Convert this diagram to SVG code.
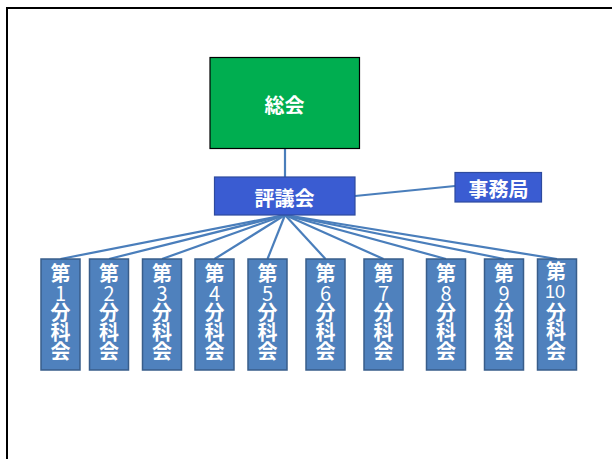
<svg xmlns="http://www.w3.org/2000/svg" width="612" height="459" viewBox="0 0 612 459">
  <style>
    .lbl { font-family: "Noto Sans CJK JP", "Liberation Sans", sans-serif; font-weight: bold; fill: #ffffff; text-anchor: middle; dominant-baseline: central; font-size: 20px; }
    .vert { font-family: "Noto Sans CJK JP", sans-serif; font-weight: bold; fill: #ffffff; font-size: 20px; writing-mode: vertical-rl; text-orientation: upright; letter-spacing: -0.5px; text-anchor: start; }
    .dig { font-weight: normal; }
    .dig10 { font-family: "Liberation Sans", sans-serif; font-weight: normal; fill: #ffffff; font-size: 18px; text-anchor: middle; dominant-baseline: central; }
    .conn { stroke: #4A7EBB; stroke-width: 2.2; fill: none; }
    .bluebox { fill: #3A5CD2; stroke: #2E4A9E; stroke-width: 1.2; }
    .subbox { fill: #4F81BD; stroke: #385D8A; stroke-width: 1.5; }
  </style>
  <rect x="0" y="0" width="612" height="459" fill="#ffffff"/>
  <rect x="7" y="8" width="700" height="520" fill="none" stroke="#000000" stroke-width="2"/>

  <g id="connectors">
    <line class="conn" x1="285" y1="149" x2="285" y2="177"/>
    <line class="conn" x1="355" y1="196" x2="455" y2="186"/>
    <line class="conn" x1="285" y1="215" x2="60.5" y2="259"/>
    <line class="conn" x1="285" y1="215" x2="109" y2="259"/>
    <line class="conn" x1="285" y1="215" x2="162" y2="259"/>
    <line class="conn" x1="285" y1="215" x2="214.5" y2="259"/>
    <line class="conn" x1="285" y1="215" x2="267.5" y2="259"/>
    <line class="conn" x1="285" y1="215" x2="325.5" y2="259"/>
    <line class="conn" x1="285" y1="215" x2="383.5" y2="259"/>
    <line class="conn" x1="285" y1="215" x2="446" y2="259"/>
    <line class="conn" x1="285" y1="215" x2="504" y2="259"/>
    <line class="conn" x1="285" y1="215" x2="557" y2="259"/>
  </g>

  <g id="soukai">
    <rect x="210" y="57.5" width="149.5" height="91" fill="#00AE50" stroke="#000000" stroke-width="1.2"/>
    <text class="lbl" x="284.5" y="104">総会</text>
  </g>

  <g id="hyogikai">
    <rect class="bluebox" x="214.5" y="177" width="140.5" height="38"/>
    <text class="lbl" x="284.5" y="197">評議会</text>
  </g>

  <g id="jimukyoku">
    <rect class="bluebox" x="455" y="172.5" width="86.5" height="29.5"/>
    <text class="lbl" x="498.5" y="188.5">事務局</text>
  </g>

  <g id="bunkakai1">
    <rect class="subbox" x="41" y="259" width="39" height="111"/>
    <text class="vert" x="60.5" y="263.5">第<tspan class="dig">1</tspan>分科会</text>
  </g>
  <g id="bunkakai2">
    <rect class="subbox" x="89.5" y="259" width="39" height="111"/>
    <text class="vert" x="109" y="263.5">第<tspan class="dig">2</tspan>分科会</text>
  </g>
  <g id="bunkakai3">
    <rect class="subbox" x="142.5" y="259" width="39" height="111"/>
    <text class="vert" x="162" y="263.5">第<tspan class="dig">3</tspan>分科会</text>
  </g>
  <g id="bunkakai4">
    <rect class="subbox" x="195" y="259" width="39" height="111"/>
    <text class="vert" x="214.5" y="263.5">第<tspan class="dig">4</tspan>分科会</text>
  </g>
  <g id="bunkakai5">
    <rect class="subbox" x="248" y="259" width="39" height="111"/>
    <text class="vert" x="267.5" y="263.5">第<tspan class="dig">5</tspan>分科会</text>
  </g>
  <g id="bunkakai6">
    <rect class="subbox" x="306" y="259" width="39" height="111"/>
    <text class="vert" x="325.5" y="263.5">第<tspan class="dig">6</tspan>分科会</text>
  </g>
  <g id="bunkakai7">
    <rect class="subbox" x="364" y="259" width="39" height="111"/>
    <text class="vert" x="383.5" y="263.5">第<tspan class="dig">7</tspan>分科会</text>
  </g>
  <g id="bunkakai8">
    <rect class="subbox" x="426.5" y="259" width="39" height="111"/>
    <text class="vert" x="446" y="263.5">第<tspan class="dig">8</tspan>分科会</text>
  </g>
  <g id="bunkakai9">
    <rect class="subbox" x="484.5" y="259" width="39" height="111"/>
    <text class="vert" x="504" y="263.5">第<tspan class="dig">9</tspan>分科会</text>
  </g>
  <g id="bunkakai10">
    <rect class="subbox" x="537.5" y="259" width="39" height="111"/>
    <text class="vert" x="556" y="261">第</text>
    <text class="dig10" x="555" y="291.5">10</text>
    <text class="vert" x="556" y="302">分科会</text>
  </g>
</svg>
